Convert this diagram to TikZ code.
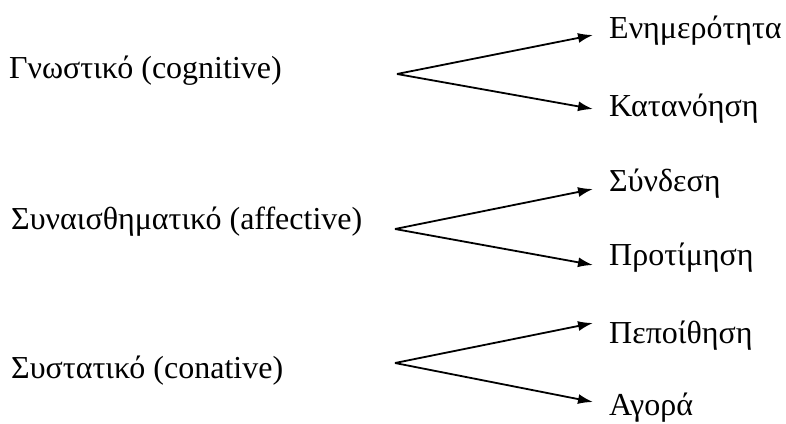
\documentclass[tikz,border=0pt]{standalone}
\usepackage{fontspec}
\setmainfont{Liberation Serif}
\usetikzlibrary{arrows.meta}
\begin{document}
\begin{tikzpicture}[x=1pt,y=-1pt,
  lbl/.style={anchor=base west,inner sep=0pt,font=\fontsize{32}{38}\selectfont},
  arr/.style={line width=1.8pt,-{Latex[length=15pt,width=10pt]}}]
\useasboundingbox (0,0) rectangle (786,423);
% left labels
\node[lbl] (g) at (9,78) {Γνωστικό (cognitive)};
\node[lbl] (s) at (11,229) {Συναισθηματικό (affective)};
\node[lbl] (c) at (11,378) {Συστατικό (conative)};
% right labels
\node[lbl] (e1) at (609,38) {Ενημερότητα};
\node[lbl] (e2) at (609,116) {Κατανόηση};
\node[lbl] (e3) at (609,191) {Σύνδεση};
\node[lbl] (e4) at (609,265) {Προτίμηση};
\node[lbl] (e5) at (609,343) {Πεποίθηση};
\node[lbl] (e6) at (609,415) {Αγορά};
% fork vertices and tips
\coordinate (v1) at (397,74);
\coordinate (v2) at (395,229);
\coordinate (v3) at (395,363);
\coordinate (t1) at (593,35);
\coordinate (t2) at (593,109);
\coordinate (t3) at (593,189);
\coordinate (t4) at (593,265);
\coordinate (t5) at (593,323);
\coordinate (t6) at (593,402);
\draw[arr] (v1) -- (t1);
\draw[arr] (v1) -- (t2);
\draw[arr] (v2) -- (t3);
\draw[arr] (v2) -- (t4);
\draw[arr] (v3) -- (t5);
\draw[arr] (v3) -- (t6);
\end{tikzpicture}
\end{document}
